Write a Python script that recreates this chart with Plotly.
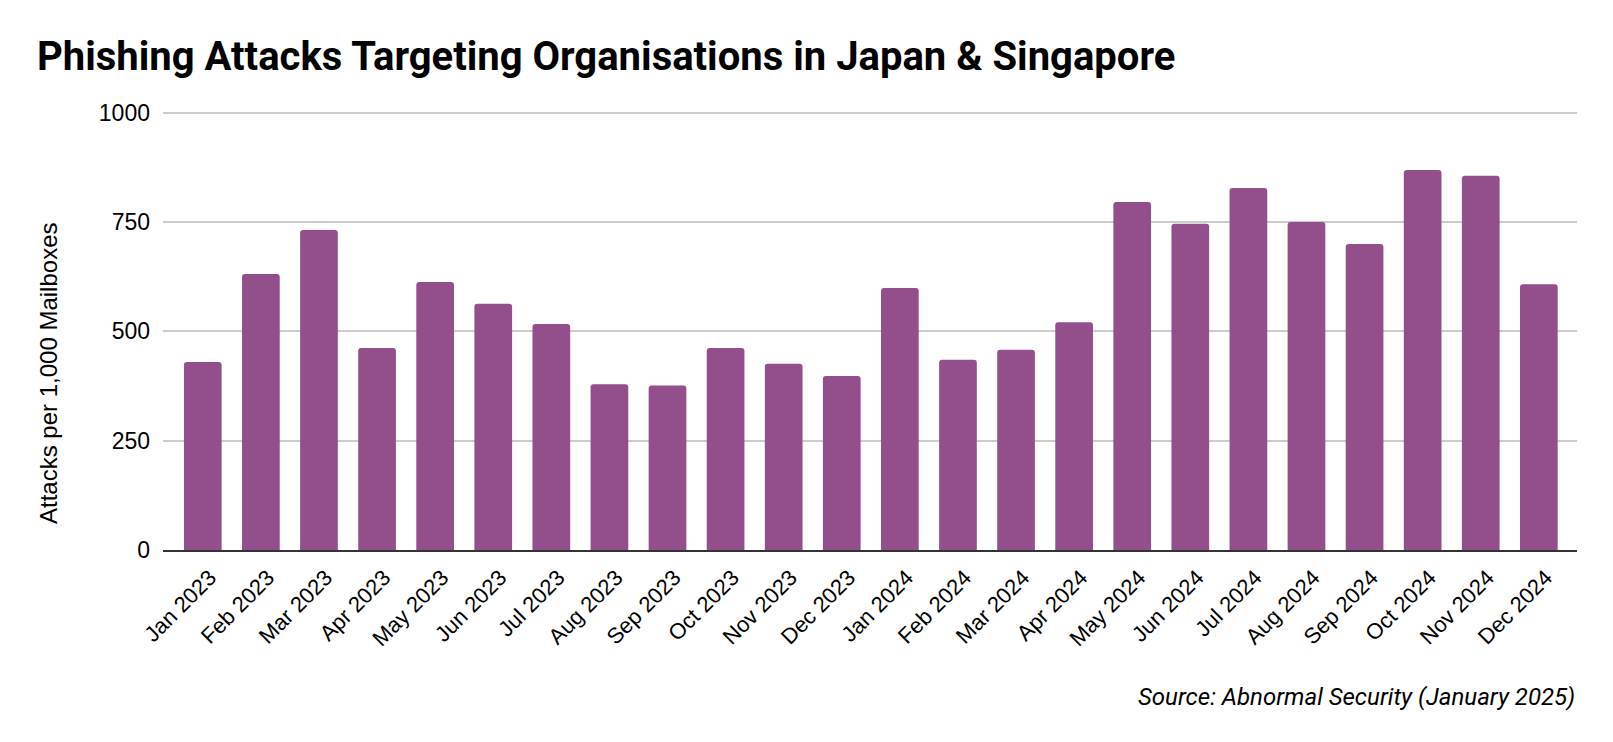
import plotly.graph_objects as go

months = ["Jan 2023", "Feb 2023", "Mar 2023", "Apr 2023", "May 2023", "Jun 2023",
          "Jul 2023", "Aug 2023", "Sep 2023", "Oct 2023", "Nov 2023", "Dec 2023",
          "Jan 2024", "Feb 2024", "Mar 2024", "Apr 2024", "May 2024", "Jun 2024",
          "Jul 2024", "Aug 2024", "Sep 2024", "Oct 2024", "Nov 2024", "Dec 2024"]
attacks = [430, 631, 732, 462, 613, 563, 517, 379, 376, 462, 426, 398,
           599, 435, 458, 521, 796, 746, 828, 750, 700, 869, 856, 608]
y_ticks = [0, 250, 500, 750, 1000]

title_text = "Phishing Attacks Targeting Organisations in Japan & Singapore"
y_title = "Attacks per 1,000 Mailboxes"
source_text = "Source: Abnormal Security (January 2025)"

W, H = 1613, 742
ml, mr, mt, mb = 163, 36, 111, 192
y_top = 1004

fig = go.Figure(go.Bar(
    x=list(range(len(months))), y=attacks,
    marker=dict(color="#934f8c", line=dict(width=0), cornerradius=3),
    hoverinfo="x+y",
))

fig.update_layout(
    width=W, height=H,
    margin=dict(l=ml, r=mr, t=mt, b=mb),
    paper_bgcolor="white", plot_bgcolor="white",
    bargap=0.351,
    showlegend=False,
    title=dict(text=title_text, xref="container", yref="container",
               x=37 / W, xanchor="left", y=1 - 56 / H, yanchor="middle",
               font=dict(family="Roboto", size=40, weight=700, color="#000000")),
    font=dict(family="Liberation Sans, Arial, sans-serif", color="#000000"),
)

fig.update_xaxes(
    tickmode="array", tickvals=list(range(len(months))), ticktext=months,
    range=[-0.685, len(months) - 1 + 0.657],
    tickangle=-45, tickfont=dict(size=22, color="#000000"),
    ticklabelshift=7, ticklabelstandoff=4,
    showgrid=False, showline=True, linecolor="#333333", linewidth=2,
    ticks="", zeroline=False,
)
fig.update_yaxes(
    range=[0, y_top], tickvals=y_ticks,
    tickfont=dict(size=23, color="#000000"),
    showgrid=True, gridcolor="#cccccc", gridwidth=1.5,
    zeroline=False, showline=False, ticks="", ticklabelstandoff=12,
)

plot_h = H - mt - mb
plot_w = W - ml - mr
fig.add_annotation(
    text=y_title, textangle=-90, showarrow=False,
    xref="paper", yref="paper",
    x=(48 - ml) / plot_w, y=(550 - 373) / plot_h,
    xanchor="center", yanchor="middle",
    font=dict(family="Liberation Sans, Arial, sans-serif", size=24, color="#000000"),
)
fig.add_annotation(
    text=source_text, showarrow=False,
    xref="paper", yref="paper",
    x=1, y=(550 - 696.5) / plot_h,
    xanchor="right", yanchor="middle",
    font=dict(family="Roboto", size=24, style="italic", color="#000000"),
)

fig.write_html("out.html")
